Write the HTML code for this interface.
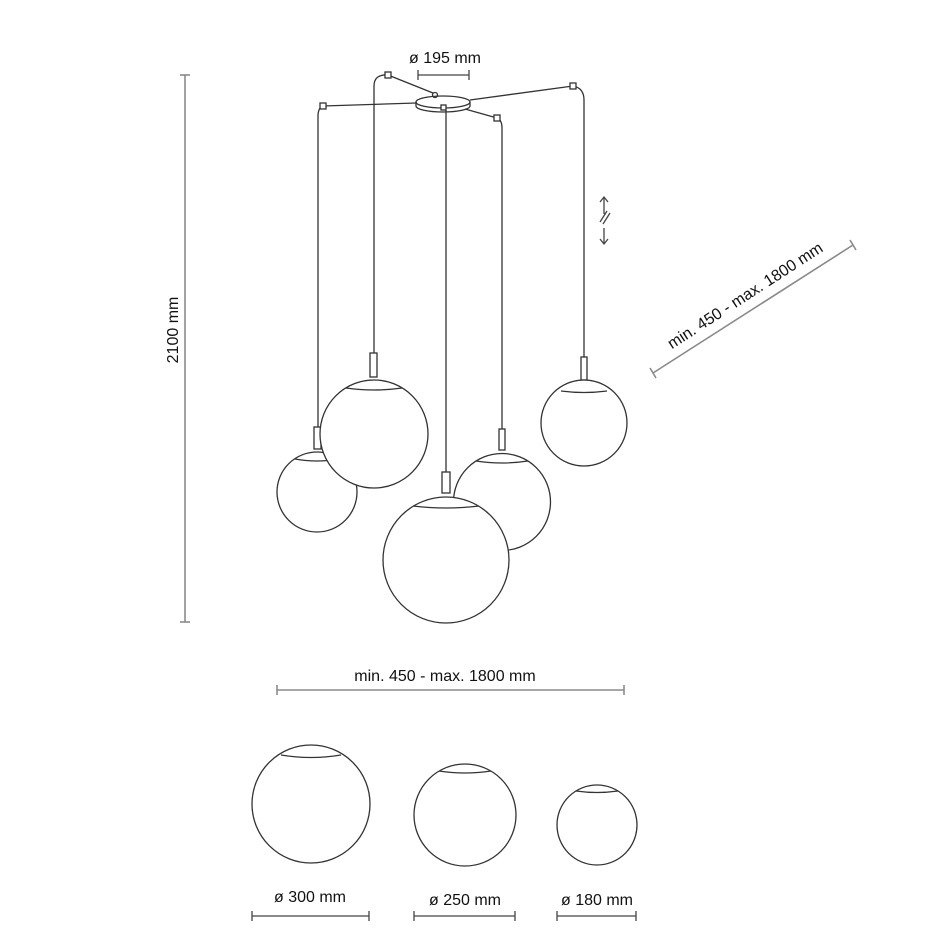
<!DOCTYPE html>
<html><head><style>html,body{margin:0;padding:0;background:#fff}svg{display:block}</style></head>
<body>
<svg width="940" height="941" viewBox="0 0 940 941" xmlns="http://www.w3.org/2000/svg" font-family="Liberation Sans, sans-serif">
<g stroke="#8a8a8a" stroke-width="1.6" fill="none">
<line x1="185" y1="75" x2="185" y2="622"/><line x1="180" y1="75" x2="190" y2="75"/><line x1="180" y1="622" x2="190" y2="622"/>
<line x1="277" y1="690" x2="624" y2="690"/><line x1="277" y1="685" x2="277" y2="695"/><line x1="624" y1="685" x2="624" y2="695"/>
<line x1="653" y1="373" x2="853" y2="245"/><line x1="650" y1="368" x2="656" y2="378"/><line x1="850" y1="240" x2="856" y2="250"/>
</g>
<g stroke="#444" stroke-width="1.3" fill="none">
<line x1="418" y1="75" x2="469" y2="75"/><line x1="418" y1="70" x2="418" y2="80"/><line x1="469" y1="70" x2="469" y2="80"/>
<line x1="252" y1="916" x2="369" y2="916"/><line x1="252" y1="911" x2="252" y2="921"/><line x1="369" y1="911" x2="369" y2="921"/>
<line x1="414" y1="916" x2="515" y2="916"/><line x1="414" y1="911" x2="414" y2="921"/><line x1="515" y1="911" x2="515" y2="921"/>
<line x1="557" y1="916" x2="636" y2="916"/><line x1="557" y1="911" x2="557" y2="921"/><line x1="636" y1="911" x2="636" y2="921"/>
<path d="M604 198 V214 M600 202 L604 197 L608 202 M604 228 V244 M600 239 L604 244 L608 239 M600 222 L607 211 M603 224 L610 213"/>
</g>
<g stroke="#333" stroke-width="1.3" fill="none">
<ellipse cx="443" cy="102" rx="27" ry="6" fill="#fff"/>
<path d="M416 102 V106 A27 6 0 0 0 470 106 V102"/>
<circle cx="435" cy="95" r="2.5"/>
<line x1="323" y1="106" x2="416" y2="103"/>
<line x1="388" y1="75" x2="433" y2="93"/>
<line x1="573" y1="86" x2="470" y2="100"/>
<line x1="497" y1="118" x2="465" y2="109"/>
<path d="M323 106 Q318 108 318 116 V427"/>
<path d="M388 75 Q374 74 374 86 V353"/>
<path d="M573 86 Q584 88 584 100 V357"/>
<path d="M497 118 Q502 120 502 128 V429"/>
<line x1="446" y1="110" x2="446" y2="472"/>
<g fill="#fff">
<rect x="320" y="103" width="6" height="6"/><rect x="385" y="72" width="6" height="6"/><rect x="570" y="83" width="6" height="6"/><rect x="494" y="115" width="6" height="6"/><rect x="441" y="105" width="5" height="5"/>
<rect x="314" y="427" width="7" height="22"/><rect x="370" y="353" width="7" height="24"/><rect x="442" y="472" width="8" height="21"/><rect x="499" y="429" width="6" height="21"/><rect x="581" y="357" width="6" height="23"/>
<circle cx="317" cy="492" r="40"/><path d="M295 459 Q317 463 339 459"/>
<circle cx="502" cy="502" r="48.5"/><path d="M476 461 Q502 465 528 461"/>
<circle cx="374" cy="434" r="54"/><path d="M346 388 Q374 392 402 388"/>
<circle cx="446" cy="560" r="63"/><path d="M413 506 Q446 510 479 506"/>
<circle cx="584" cy="423" r="43"/><path d="M561 391 Q584 394 607 391"/>
<circle cx="311" cy="804" r="59"/><path d="M281 755 Q311 760 341 755"/>
<circle cx="465" cy="815" r="51"/><path d="M439 771 Q465 775 491 771"/>
<circle cx="597" cy="825" r="40"/><path d="M576 791 Q597 794 618 791"/>
</g>
</g>
<g fill="#111" font-size="16">
<text x="445" y="63" text-anchor="middle">ø 195 mm</text>
<text x="445" y="681" text-anchor="middle">min. 450 - max. 1800 mm</text>
<text x="310" y="902" text-anchor="middle">ø 300 mm</text>
<text x="465" y="905" text-anchor="middle">ø 250 mm</text>
<text x="597" y="905" text-anchor="middle">ø 180 mm</text>
<text transform="translate(178,330) rotate(-90)" text-anchor="middle">2100 mm</text>
<text transform="translate(748,300) rotate(-33)" text-anchor="middle">min. 450 - max. 1800 mm</text>
</g>
</svg>
</body></html>
